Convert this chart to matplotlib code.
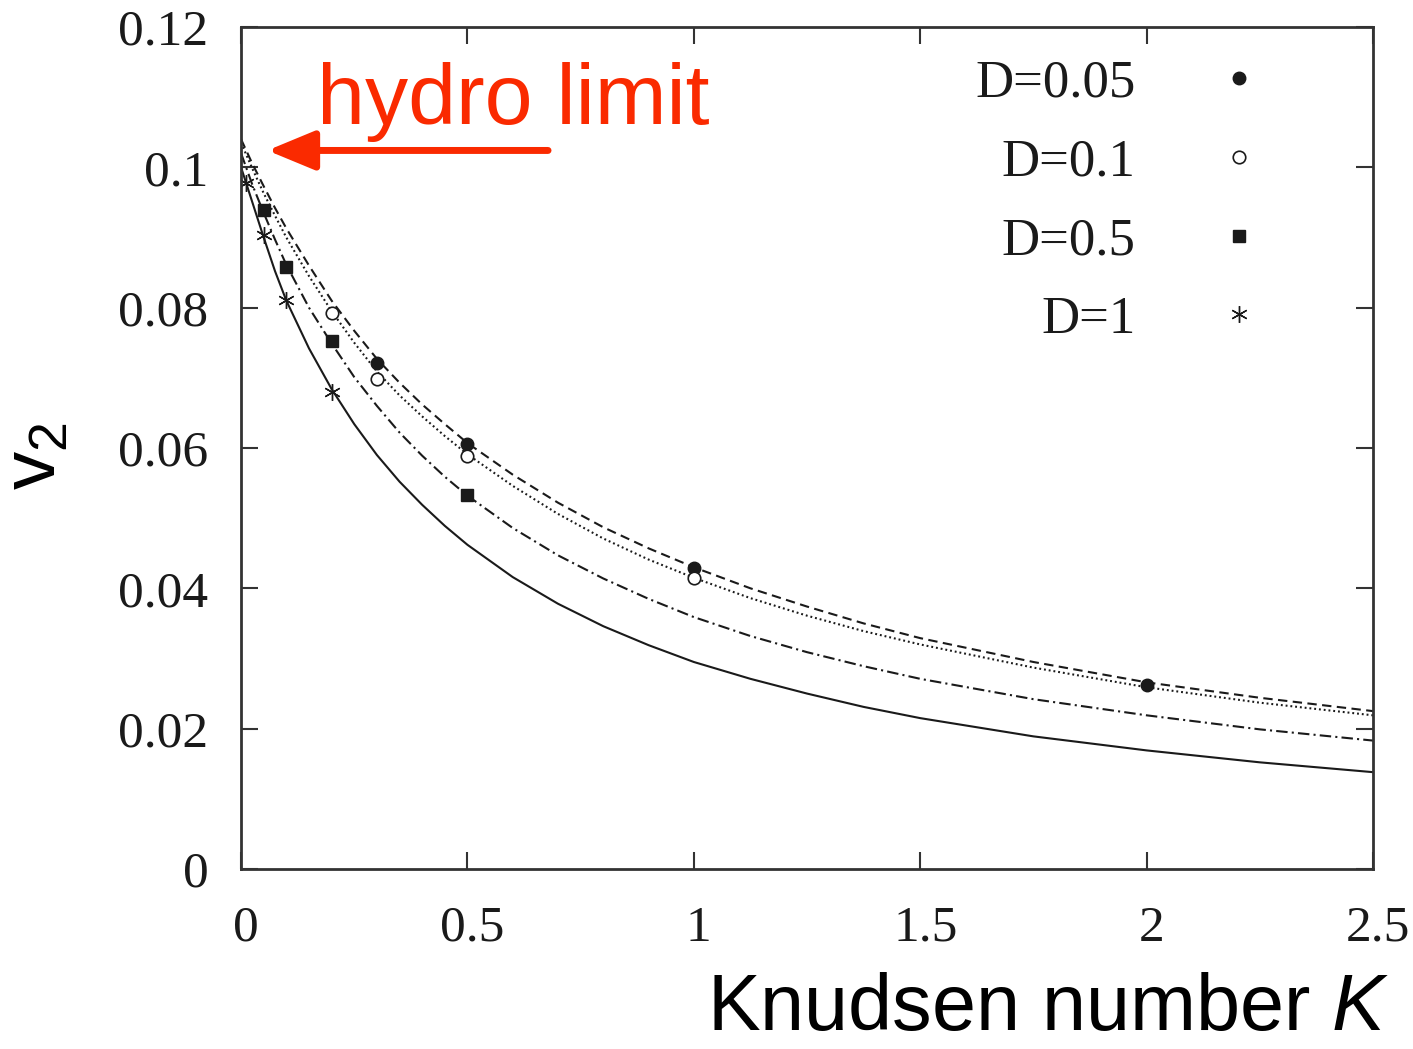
import matplotlib
matplotlib.use("Agg")
import matplotlib.pyplot as plt
from matplotlib.transforms import ScaledTranslation

plt.rcParams["mathtext.fontset"] = "custom"
plt.rcParams["mathtext.rm"] = "Liberation Sans"
plt.rcParams["mathtext.it"] = "Liberation Sans:italic"

# Transport results (markers) for several values of D
k_005 = [0.3, 0.5, 1.0, 2.0]
v_005 = [0.0721, 0.0606, 0.0429, 0.0262]
k_01 = [0.2, 0.3, 0.5, 1.0]
v_01 = [0.0792, 0.0699, 0.0588, 0.0415]
k_05 = [0.05, 0.1, 0.2, 0.5]
v_05 = [0.0939, 0.0858, 0.0753, 0.0533]
k_1 = [0.01, 0.05, 0.1, 0.2]
v_1 = [0.0978, 0.0904, 0.0811, 0.0680]

# Fitted curves, sampled in Knudsen number
k_curve = [0.0, 0.025, 0.05, 0.075, 0.1, 0.15, 0.2, 0.25, 0.3, 0.35, 0.4,
           0.45, 0.5, 0.6, 0.7, 0.8, 0.9, 1.0, 1.125, 1.25, 1.375, 1.5,
           1.75, 2.0, 2.25, 2.5]
c_005 = [0.1040, 0.1005, 0.0973, 0.0942, 0.0913, 0.0860, 0.0810, 0.0767,
         0.0727, 0.0693, 0.0662, 0.0634, 0.0607, 0.0562, 0.0522, 0.0487,
         0.0457, 0.0430, 0.0400, 0.0374, 0.0350, 0.0329, 0.0295, 0.0266,
         0.0244, 0.0225]
c_01 = [0.1035, 0.0998, 0.0963, 0.0931, 0.0900, 0.0845, 0.0795, 0.0750,
        0.0709, 0.0675, 0.0645, 0.0617, 0.0591, 0.0546, 0.0506, 0.0471,
        0.0441, 0.0415, 0.0386, 0.0361, 0.0339, 0.0320, 0.0287, 0.0259,
        0.0237, 0.0219]
c_05 = [0.1020, 0.0975, 0.0935, 0.0897, 0.0861, 0.0800, 0.0749, 0.0701,
        0.0660, 0.0622, 0.0589, 0.0559, 0.0532, 0.0486, 0.0447, 0.0414,
        0.0385, 0.0359, 0.0332, 0.0309, 0.0289, 0.0271, 0.0242, 0.0219,
        0.0199, 0.0183]
c_1 = [0.1000, 0.0950, 0.0900, 0.0852, 0.0810, 0.0742, 0.0684, 0.0634,
       0.0590, 0.0552, 0.0519, 0.0489, 0.0462, 0.0416, 0.0378, 0.0346,
       0.0319, 0.0295, 0.0271, 0.0250, 0.0231, 0.0215, 0.0189, 0.0169,
       0.0152, 0.0138]

x_ticks = [0, 0.5, 1, 1.5, 2, 2.5]
x_tick_labels = ["0", "0.5", "1", "1.5", "2", "2.5"]
y_ticks = [0, 0.02, 0.04, 0.06, 0.08, 0.1, 0.12]
y_tick_labels = ["0", "0.02", "0.04", "0.06", "0.08", "0.1", "0.12"]
labels = ["D=0.05", "D=0.1", "D=0.5", "D=1"]

fig = plt.figure(figsize=(14.13, 10.49), dpi=100)
ax = fig.add_axes([0.1706, 0.1716, 0.9717 - 0.1706, 0.9743 - 0.1716])

ink = "#1a1a1a"
lw = 1.5
ax.plot(k_curve, c_005, color=ink, lw=lw, ls=(0, (4.5, 2.6)))
ax.plot(k_curve, c_01, color=ink, lw=lw, ls=(0, (0.9, 1.4)))
ax.plot(k_curve, c_05, color=ink, lw=lw, ls=(0, (5.5, 2.0, 1.0, 2.0)))
ax.plot(k_curve, c_1, color=ink, lw=lw, ls="-")

ms = 9
h1, = ax.plot(k_005, v_005, "o", color=ink, ms=ms, ls="none")
h2, = ax.plot(k_01, v_01, "o", mfc="white", mec=ink, mew=1.2, ms=ms, ls="none")
h3, = ax.plot(k_05, v_05, "s", color=ink, ms=ms - 0.5, ls="none")
h4, = ax.plot(k_1, v_1, marker=(6, 2, 0), color=ink, mew=1.0, ms=ms + 3, ls="none")

leg = ax.legend([h1, h2, h3, h4], labels, loc="upper right",
                bbox_to_anchor=(0.893, 0.961), frameon=False,
                markerfirst=False, handlelength=0.5, handletextpad=1.7,
                labelspacing=0.58, borderaxespad=0, borderpad=0,
                prop={"family": "Liberation Serif", "size": 38})
for t in leg.get_texts():
    t.set_ha("right")
    t.set_color(ink)

ax.set_xlim(0, 2.5)
ax.set_ylim(0, 0.12)
ax.set_xticks(x_ticks)
ax.set_xticklabels(x_tick_labels)
ax.set_yticks(y_ticks)
ax.set_yticklabels(y_tick_labels)
ax.tick_params(direction="in", length=12, width=1.5, color="#333333",
               top=True, right=True, labelsize=37, pad=26, labelcolor=ink)
ax.tick_params(axis="y", pad=23.5)
shift = ScaledTranslation(5 / 100, 0, fig.dpi_scale_trans)
for lab in ax.get_xticklabels():
    lab.set_fontfamily("Liberation Serif")
    lab.set_transform(lab.get_transform() + shift)
for lab in ax.get_yticklabels():
    lab.set_fontfamily("Liberation Serif")
for s in ax.spines.values():
    s.set_linewidth(2.0)
    s.set_color("#333333")

ax.set_xlabel(r"Knudsen number $\mathit{K}$", family="Liberation Sans",
              fontsize=57, ha="center", va="top")
ax.xaxis.set_label_coords(0.713, -0.122)
ax.set_ylabel(r"$\mathregular{v_2}$", family="Liberation Sans", fontsize=55,
              va="center")
ax.yaxis.set_label_coords(-0.182, 0.49)

red = "#fa2a00"
ax.text(0.168, 0.1061, "hydro limit", color=red, family="Liberation Sans",
        fontsize=62, ha="left", va="baseline")
ax.annotate("", xy=(0.058, 0.1024), xytext=(0.678, 0.1024),
            arrowprops=dict(arrowstyle="-|>,head_length=1.45,head_width=0.6",
                            color=red, lw=5, shrinkA=0, shrinkB=0,
                            mutation_scale=20))

fig.savefig("out.png", dpi=100)
